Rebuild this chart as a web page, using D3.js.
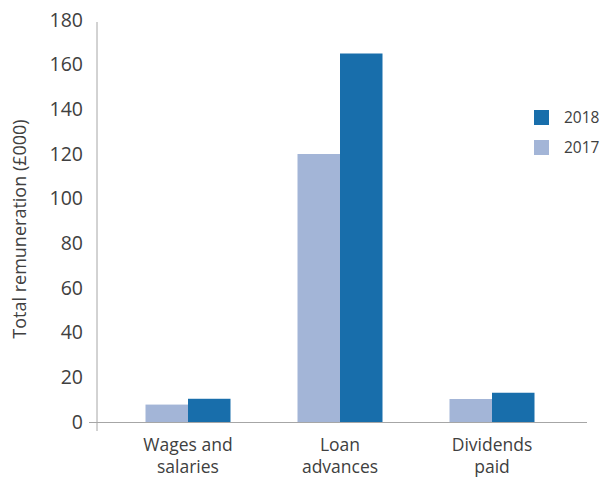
<!DOCTYPE html>
<html><head><meta charset="utf-8">
<script src="https://cdn.jsdelivr.net/npm/d3@7"></script>
<style>body{margin:0;background:#fff}svg{display:block}text{font-family:"Open Sans","Noto Sans",sans-serif;fill:#404040}</style>
</head><body>
<svg id="c" width="601" height="477"></svg>
<script>
const categories = [["Wages and","salaries"],["Loan","advances"],["Dividends","paid"]];
const series = ["2017","2018"];
const values2017 = [7.8, 120, 10.3];
const values2018 = [10.4, 165, 13.1];
const yTicks = [0,20,40,60,80,100,120,140,160,180];
const colors = {"2017":"#a3b5d7","2018":"#186eab"};

const svg = d3.select("#c");
const y = d3.scaleLinear().domain([0,180]).range([422,20]);
const x = d3.scaleBand().domain(d3.range(categories.length)).range([112,568]).paddingInner(0).paddingOuter(0);
const gw = 85;
const xs = d3.scaleBand().domain(series).range([0, gw]);

// bars
const data = categories.map((c,i)=>({i, vals:{"2017":values2017[i],"2018":values2018[i]}}));
const g = svg.append("g");
data.forEach(d=>{
  const x0 = x(d.i) + x.bandwidth()/2 - gw/2;
  series.forEach(s=>{
    g.append("rect").attr("x", x0 + xs(s)).attr("width", xs.bandwidth())
      .attr("y", y(d.vals[s])).attr("height", y(0)-y(d.vals[s])).attr("fill", colors[s]);
  });
});

// y axis
const ya = svg.append("g").attr("transform","translate(97,0)")
  .call(d3.axisLeft(y).tickValues(yTicks).tickSize(0).tickPadding(14));
ya.select(".domain").remove();
ya.selectAll("text").attr("font-size",19.5).style("font-family","'Open Sans','Noto Sans',sans-serif").attr("fill","#404040");
svg.append("line").attr("x1",97).attr("x2",97).attr("y1",22).attr("y2",431).attr("stroke","#a6a6a6").attr("stroke-width",1);
svg.append("line").attr("x1",89).attr("x2",587).attr("y1",y(0)+0.5).attr("y2",y(0)+0.5).attr("stroke","#a6a6a6").attr("stroke-width",1.2);

// category labels
categories.forEach((c,i)=>{
  const cx = x(i)+x.bandwidth()/2;
  const t = svg.append("text").attr("text-anchor","middle").attr("font-size",17.5)
    .attr("x", cx).attr("y",451);
  c.forEach((line,j)=> t.append("tspan").attr("x", cx).attr("dy", j?22:0).text(line));
});

// y title
svg.append("text").attr("transform","translate(26,229) rotate(-90)").attr("text-anchor","middle")
  .attr("font-size",18).text("Total remuneration (£000)");

// legend
const legendOrder = ["2018","2017"];
legendOrder.forEach((s,i)=>{
  const ly = 110 + i*30;
  svg.append("rect").attr("x",534).attr("y",ly).attr("width",15).attr("height",15).attr("fill",colors[s]);
  svg.append("text").attr("x",564).attr("y",ly+8).attr("dy","0.35em").attr("font-size",15.5).text(s);
});
</script>
</body></html>
